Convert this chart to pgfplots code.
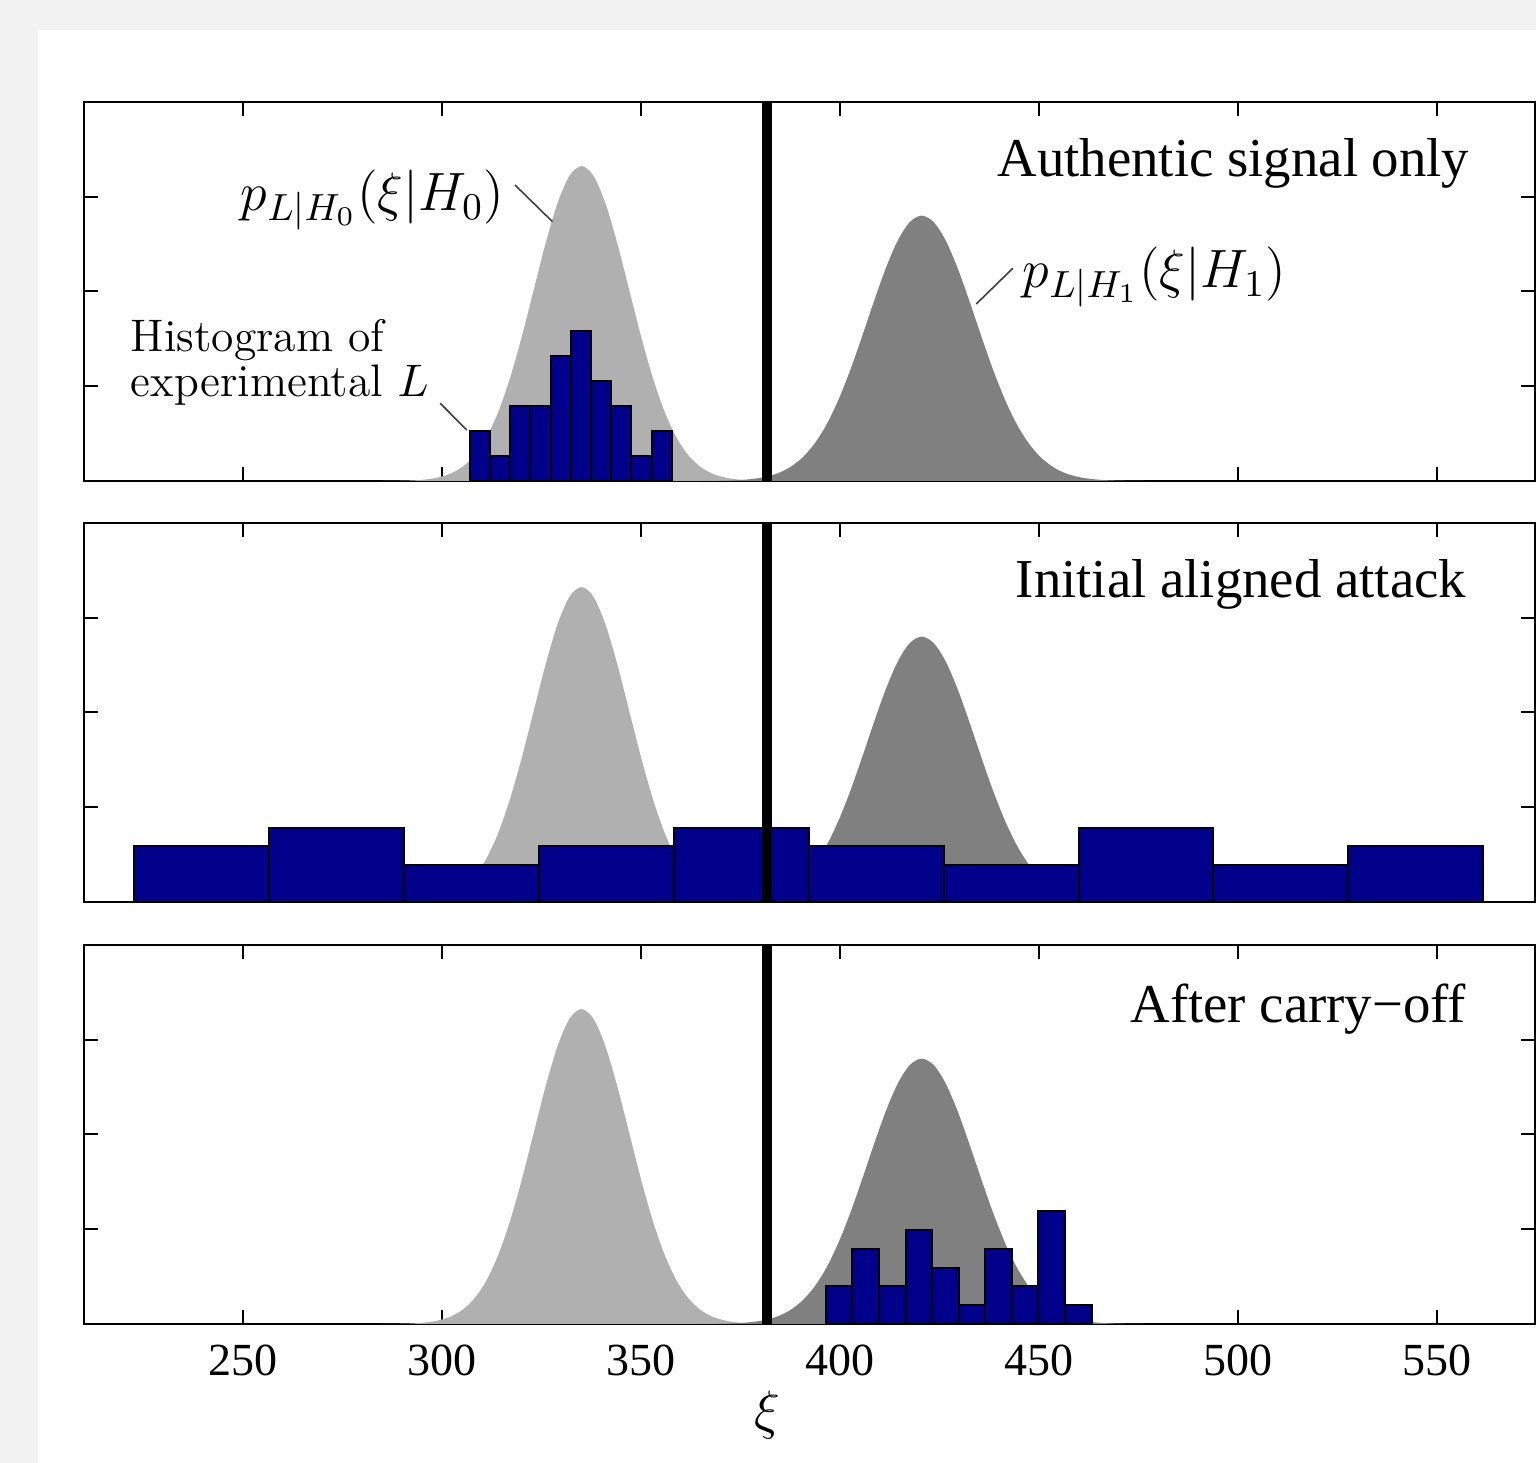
\RequirePackage{fix-cm}
\documentclass[border=0pt]{standalone}
\usepackage[no-math]{fontspec}
\setmainfont{Liberation Serif}
\newfontfamily\lmfont{Latin Modern Roman}
\usepackage{pgfplots}
\usepackage{pgfplotstable}
\pgfplotsset{compat=1.18}

\definecolor{hzero}{RGB}{176,176,176}
\definecolor{hone}{RGB}{128,128,128}
\definecolor{histblue}{RGB}{0,0,139}

% density of L under H0 (centre 335)
\pgfplotstableread{
x y
285 0
287 0.001
290 0.003
293 0.007
296 0.017
299 0.037
302 0.076
305 0.146
308 0.265
311 0.450
314 0.719
317 1.079
320 1.522
323 2.016
326 2.509
329 2.934
332 3.222
335 3.324
338 3.222
341 2.934
344 2.509
347 2.016
350 1.522
353 1.079
356 0.719
359 0.450
362 0.265
365 0.146
368 0.076
371 0.037
374 0.017
377 0.007
380 0.003
383 0.001
385 0
}\curvezero

% density of L under H1 (centre 420.5)
\pgfplotstableread{
x y
364.5 0
366.5 0.001
369.5 0.0025
372.5 0.0055
375.5 0.012
378.5 0.024
381.5 0.046
384.5 0.084
387.5 0.148
390.5 0.246
393.5 0.390
396.5 0.590
399.5 0.850
402.5 1.166
405.5 1.524
408.5 1.897
411.5 2.249
414.5 2.540
417.5 2.733
420.5 2.800
423.5 2.733
426.5 2.540
429.5 2.249
432.5 1.897
435.5 1.524
438.5 1.166
441.5 0.850
444.5 0.590
447.5 0.390
450.5 0.246
453.5 0.148
456.5 0.084
459.5 0.046
462.5 0.024
465.5 0.012
468.5 0.0055
471.5 0.0025
474.5 0.001
476.5 0
}\curveone

% histograms (left bin edge, height); last row closes the last bin
\pgfplotstableread{
x y
306.90 0.528
311.98 0.264
317.06 0.792
322.14 0.792
327.22 1.320
332.30 1.584
337.38 1.056
342.46 0.792
347.54 0.264
352.62 0.528
357.70 0.528
}\histauth

\pgfplotstableread{
x y
222.6 0.590
256.5 0.786
290.4 0.393
324.3 0.590
358.2 0.786
392.1 0.590
426.0 0.393
459.9 0.786
493.8 0.393
527.7 0.590
561.6 0.590
}\histattack

\pgfplotstableread{
x y
396.40 0.396
403.08 0.792
409.76 0.396
416.44 0.990
423.12 0.594
429.80 0.198
436.48 0.792
443.16 0.396
449.84 1.188
456.52 0.198
463.20 0.198
}\histcarry

\pgfplotsset{
  panel/.style={
    scale only axis, width=362.75pt, height=94.75pt,
    anchor=north west,
    xmin=210, xmax=574.6, ymin=0, ymax=4,
    xtick={250,300,...,550}, ytick={1,2,3},
    yticklabels={},
    tick align=inside, major tick length=3.5pt,
    every tick/.style={black, line width=0.5pt},
    axis line style={line width=0.5pt},
  },
  h0/.style={fill=hzero, draw=none, smooth},
  h1/.style={fill=hone, draw=none, smooth},
  hist/.style={ybar interval, fill=histblue, draw=black, line width=0.5pt},
  thresh/.style={black, line width=2.7pt},
}
\tikzset{
  ttl/.style={anchor=base east, inner sep=0pt, font=\fontsize{13.7}{16}\selectfont},
  lead/.style={black!75, line width=0.4pt},
}

\begin{document}
\begin{tikzpicture}
\fill[black!5] (0pt,0pt) rectangle (384pt,-365.75pt);
\fill[white] (9.6pt,-7.5pt) rectangle (384pt,-365.75pt);
\useasboundingbox (0pt,0pt) rectangle (384pt,-365.75pt);

% panel 1
\begin{axis}[panel, at={(21pt,-25.5pt)}, xticklabels={}]
\addplot[h0] table {\curvezero} \closedcycle;
\addplot[h1] table {\curveone} \closedcycle;
\addplot[hist] table {\histauth};
\addplot[thresh] coordinates {(381.6,0) (381.6,4)};
\node[ttl] at (axis cs:558.3,3.21) {Authentic signal only};
\node[anchor=base east, inner sep=0pt, font=\fontsize{13.5}{16}\selectfont] at (axis cs:315.8,2.85) {$p_{L|H_0}(\xi|H_0)$};
\draw[lead] (axis cs:318.3,3.124) -- (axis cs:327.7,2.737);
\node[anchor=base west, inner sep=0pt, font=\fontsize{13.5}{16}\selectfont] at (axis cs:445.7,2.037) {$p_{L|H_1}(\xi|H_1)$};
\draw[lead] (axis cs:443.4,2.245) -- (axis cs:434.2,1.868);
\node[anchor=base west, font=\lmfont\fontsize{11.4}{13}\selectfont, inner sep=0pt] at (axis cs:221.6,1.365) {Histogram of};
\node[anchor=base west, font=\lmfont\fontsize{11.4}{13}\selectfont, inner sep=0pt] at (axis cs:221.6,0.887) {experimental $L$};
\draw[lead] (axis cs:299.5,0.820) -- (axis cs:306.2,0.538);
\end{axis}

% panel 2
\begin{axis}[panel, at={(21pt,-130.75pt)}, xticklabels={}]
\addplot[h0] table {\curvezero} \closedcycle;
\addplot[h1] table {\curveone} \closedcycle;
\addplot[hist] table {\histattack};
\addplot[thresh] coordinates {(381.6,0) (381.6,4)};
\node[ttl] at (axis cs:557.5,3.21) {Initial aligned attack};
\end{axis}

% panel 3
\begin{axis}[panel, at={(21pt,-236.25pt)},
  /pgf/number format/assume math mode=true,
  xticklabel style={font=\fontsize{11.5}{13}\selectfont, yshift=-1.7pt},
  xlabel={$\xi$},
  xlabel style={at={(axis description cs:0.4707,0)}, anchor=center, yshift=-22.75pt, font=\fontsize{13.5}{16}\selectfont}]
\addplot[h0] table {\curvezero} \closedcycle;
\addplot[h1] table {\curveone} \closedcycle;
\addplot[hist] table {\histcarry};
\addplot[thresh] coordinates {(381.6,0) (381.6,4)};
\node[ttl] at (axis cs:557.5,3.18) {After carry−off};
\end{axis}
\end{tikzpicture}
\end{document}
